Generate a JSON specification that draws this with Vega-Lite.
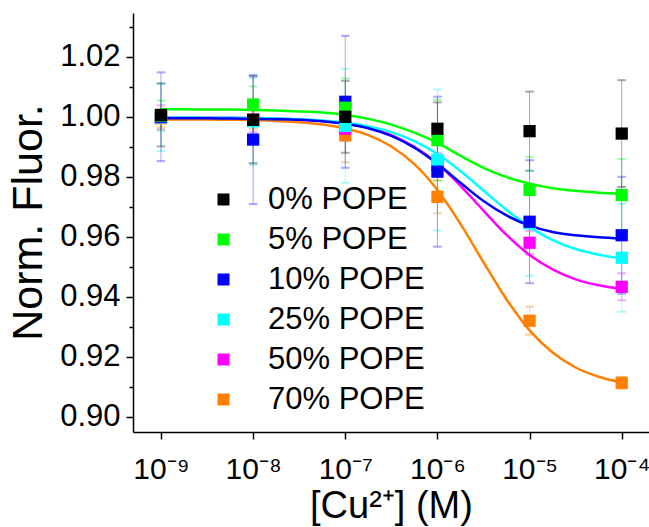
{
  "$schema": "https://vega.github.io/schema/vega-lite/v6.json",
  "autosize": "none",
  "width": 516,
  "height": 419,
  "padding": {"left": 133, "top": 13, "right": 0, "bottom": 95},
  "background": "white",
  "config": {
    "view": {"stroke": null},
    "font": "Liberation Sans",
    "axis": {
      "grid": false,
      "domainColor": "black",
      "domainWidth": 1.5,
      "tickColor": "black",
      "tickWidth": 1.5,
      "labelColor": "black",
      "titleColor": "black",
      "labelFont": "Liberation Sans",
      "titleFont": "Liberation Sans",
      "titleFontWeight": "normal",
      "labelFontSize": 30,
      "titleFontSize": 39
    }
  },
  "datasets": {
    "points": [
      {"s": "70% POPE", "c": 1e-9, "v": 0.9995, "err": 0.003},
      {"s": "70% POPE", "c": 1e-8, "v": 0.9990, "err": 0.003},
      {"s": "70% POPE", "c": 1e-7, "v": 0.9938, "err": 0.009},
      {"s": "70% POPE", "c": 1e-6, "v": 0.9733, "err": 0.0055},
      {"s": "70% POPE", "c": 1e-5, "v": 0.9320, "err": 0.0047},
      {"s": "70% POPE", "c": 1e-4, "v": 0.9113, "err": 0.002},
      {"s": "50% POPE", "c": 1e-9, "v": 0.9998, "err": 0.004},
      {"s": "50% POPE", "c": 1e-8, "v": 0.9990, "err": 0.004},
      {"s": "50% POPE", "c": 1e-7, "v": 0.9960, "err": 0.004},
      {"s": "50% POPE", "c": 1e-6, "v": 0.9840, "err": 0.004},
      {"s": "50% POPE", "c": 1e-5, "v": 0.9580, "err": 0.004},
      {"s": "50% POPE", "c": 1e-4, "v": 0.9433, "err": 0.0045},
      {"s": "25% POPE", "c": 1e-9, "v": 0.9998, "err": 0.0113},
      {"s": "25% POPE", "c": 1e-8, "v": 0.9985, "err": 0.0145},
      {"s": "25% POPE", "c": 1e-7, "v": 0.9970, "err": 0.019},
      {"s": "25% POPE", "c": 1e-6, "v": 0.9856, "err": 0.0235},
      {"s": "25% POPE", "c": 1e-5, "v": 0.9645, "err": 0.0175},
      {"s": "25% POPE", "c": 1e-4, "v": 0.9530, "err": 0.018},
      {"s": "10% POPE", "c": 1e-9, "v": 1.0000, "err": 0.0148},
      {"s": "10% POPE", "c": 1e-8, "v": 0.9924, "err": 0.0215},
      {"s": "10% POPE", "c": 1e-7, "v": 1.0050, "err": 0.022},
      {"s": "10% POPE", "c": 1e-6, "v": 0.9817, "err": 0.025},
      {"s": "10% POPE", "c": 1e-5, "v": 0.9650, "err": 0.0205},
      {"s": "10% POPE", "c": 1e-4, "v": 0.9605, "err": 0.0195},
      {"s": "5% POPE", "c": 1e-9, "v": 1.0004, "err": 0.005},
      {"s": "5% POPE", "c": 1e-8, "v": 1.0041, "err": 0.006},
      {"s": "5% POPE", "c": 1e-7, "v": 1.0030, "err": 0.0098},
      {"s": "5% POPE", "c": 1e-6, "v": 0.9922, "err": 0.0135},
      {"s": "5% POPE", "c": 1e-5, "v": 0.9756, "err": 0.011},
      {"s": "5% POPE", "c": 1e-4, "v": 0.9739, "err": 0.012},
      {"s": "0% POPE", "c": 1e-9, "v": 1.0006, "err": 0.0105},
      {"s": "0% POPE", "c": 1e-8, "v": 0.9990, "err": 0.0145},
      {"s": "0% POPE", "c": 1e-7, "v": 1.0000, "err": 0.012},
      {"s": "0% POPE", "c": 1e-6, "v": 0.9960, "err": 0.0088},
      {"s": "0% POPE", "c": 1e-5, "v": 0.9952, "err": 0.0132},
      {"s": "0% POPE", "c": 1e-4, "v": 0.9944, "err": 0.0178}
    ],
    "curves": [
      {"s": "70% POPE", "c": 1e-9, "v": 0.9992},
      {"s": "70% POPE", "c": 1.778e-9, "v": 0.9991},
      {"s": "70% POPE", "c": 3.162e-9, "v": 0.9991},
      {"s": "70% POPE", "c": 5.623e-9, "v": 0.9990},
      {"s": "70% POPE", "c": 1e-8, "v": 0.9989},
      {"s": "70% POPE", "c": 1.778e-8, "v": 0.9986},
      {"s": "70% POPE", "c": 3.162e-8, "v": 0.9982},
      {"s": "70% POPE", "c": 5.623e-8, "v": 0.9974},
      {"s": "70% POPE", "c": 1e-7, "v": 0.9961},
      {"s": "70% POPE", "c": 1.778e-7, "v": 0.9939},
      {"s": "70% POPE", "c": 3.162e-7, "v": 0.9901},
      {"s": "70% POPE", "c": 5.623e-7, "v": 0.9842},
      {"s": "70% POPE", "c": 1e-6, "v": 0.9756},
      {"s": "70% POPE", "c": 1.778e-6, "v": 0.9643},
      {"s": "70% POPE", "c": 3.162e-6, "v": 0.9515},
      {"s": "70% POPE", "c": 5.623e-6, "v": 0.9391},
      {"s": "70% POPE", "c": 1e-5, "v": 0.9288},
      {"s": "70% POPE", "c": 1.778e-5, "v": 0.9214},
      {"s": "70% POPE", "c": 3.162e-5, "v": 0.9164},
      {"s": "70% POPE", "c": 5.623e-5, "v": 0.9133},
      {"s": "70% POPE", "c": 1e-4, "v": 0.9114},
      {"s": "50% POPE", "c": 1e-9, "v": 0.9998},
      {"s": "50% POPE", "c": 1.778e-9, "v": 0.9998},
      {"s": "50% POPE", "c": 3.162e-9, "v": 0.9997},
      {"s": "50% POPE", "c": 5.623e-9, "v": 0.9997},
      {"s": "50% POPE", "c": 1e-8, "v": 0.9996},
      {"s": "50% POPE", "c": 1.778e-8, "v": 0.9994},
      {"s": "50% POPE", "c": 3.162e-8, "v": 0.9991},
      {"s": "50% POPE", "c": 5.623e-8, "v": 0.9986},
      {"s": "50% POPE", "c": 1e-7, "v": 0.9978},
      {"s": "50% POPE", "c": 1.778e-7, "v": 0.9963},
      {"s": "50% POPE", "c": 3.162e-7, "v": 0.9939},
      {"s": "50% POPE", "c": 5.623e-7, "v": 0.9900},
      {"s": "50% POPE", "c": 1e-6, "v": 0.9844},
      {"s": "50% POPE", "c": 1.778e-6, "v": 0.9770},
      {"s": "50% POPE", "c": 3.162e-6, "v": 0.9687},
      {"s": "50% POPE", "c": 5.623e-6, "v": 0.9606},
      {"s": "50% POPE", "c": 1e-5, "v": 0.9539},
      {"s": "50% POPE", "c": 1.778e-5, "v": 0.9491},
      {"s": "50% POPE", "c": 3.162e-5, "v": 0.9458},
      {"s": "50% POPE", "c": 5.623e-5, "v": 0.9438},
      {"s": "50% POPE", "c": 1e-4, "v": 0.9426},
      {"s": "25% POPE", "c": 1e-9, "v": 0.9998},
      {"s": "25% POPE", "c": 1.778e-9, "v": 0.9998},
      {"s": "25% POPE", "c": 3.162e-9, "v": 0.9997},
      {"s": "25% POPE", "c": 5.623e-9, "v": 0.9997},
      {"s": "25% POPE", "c": 1e-8, "v": 0.9996},
      {"s": "25% POPE", "c": 1.778e-8, "v": 0.9994},
      {"s": "25% POPE", "c": 3.162e-8, "v": 0.9992},
      {"s": "25% POPE", "c": 5.623e-8, "v": 0.9988},
      {"s": "25% POPE", "c": 1e-7, "v": 0.9980},
      {"s": "25% POPE", "c": 1.778e-7, "v": 0.9968},
      {"s": "25% POPE", "c": 3.162e-7, "v": 0.9949},
      {"s": "25% POPE", "c": 5.623e-7, "v": 0.9919},
      {"s": "25% POPE", "c": 1e-6, "v": 0.9876},
      {"s": "25% POPE", "c": 1.778e-6, "v": 0.9819},
      {"s": "25% POPE", "c": 3.162e-6, "v": 0.9754},
      {"s": "25% POPE", "c": 5.623e-6, "v": 0.9689},
      {"s": "25% POPE", "c": 1e-5, "v": 0.9633},
      {"s": "25% POPE", "c": 1.778e-5, "v": 0.9589},
      {"s": "25% POPE", "c": 3.162e-5, "v": 0.9559},
      {"s": "25% POPE", "c": 5.623e-5, "v": 0.9540},
      {"s": "25% POPE", "c": 1e-4, "v": 0.9528},
      {"s": "10% POPE", "c": 1e-9, "v": 0.9995},
      {"s": "10% POPE", "c": 1.778e-9, "v": 0.9995},
      {"s": "10% POPE", "c": 3.162e-9, "v": 0.9995},
      {"s": "10% POPE", "c": 5.623e-9, "v": 0.9994},
      {"s": "10% POPE", "c": 1e-8, "v": 0.9993},
      {"s": "10% POPE", "c": 1.778e-8, "v": 0.9992},
      {"s": "10% POPE", "c": 3.162e-8, "v": 0.9990},
      {"s": "10% POPE", "c": 5.623e-8, "v": 0.9985},
      {"s": "10% POPE", "c": 1e-7, "v": 0.9976},
      {"s": "10% POPE", "c": 1.778e-7, "v": 0.9962},
      {"s": "10% POPE", "c": 3.162e-7, "v": 0.9936},
      {"s": "10% POPE", "c": 5.623e-7, "v": 0.9897},
      {"s": "10% POPE", "c": 1e-6, "v": 0.9843},
      {"s": "10% POPE", "c": 1.778e-6, "v": 0.9780},
      {"s": "10% POPE", "c": 3.162e-6, "v": 0.9719},
      {"s": "10% POPE", "c": 5.623e-6, "v": 0.9671},
      {"s": "10% POPE", "c": 1e-5, "v": 0.9637},
      {"s": "10% POPE", "c": 1.778e-5, "v": 0.9616},
      {"s": "10% POPE", "c": 3.162e-5, "v": 0.9605},
      {"s": "10% POPE", "c": 5.623e-5, "v": 0.9598},
      {"s": "10% POPE", "c": 1e-4, "v": 0.9594},
      {"s": "5% POPE", "c": 1e-9, "v": 1.0025},
      {"s": "5% POPE", "c": 1.778e-9, "v": 1.0025},
      {"s": "5% POPE", "c": 3.162e-9, "v": 1.0024},
      {"s": "5% POPE", "c": 5.623e-9, "v": 1.0024},
      {"s": "5% POPE", "c": 1e-8, "v": 1.0023},
      {"s": "5% POPE", "c": 1.778e-8, "v": 1.0021},
      {"s": "5% POPE", "c": 3.162e-8, "v": 1.0018},
      {"s": "5% POPE", "c": 5.623e-8, "v": 1.0014},
      {"s": "5% POPE", "c": 1e-7, "v": 1.0006},
      {"s": "5% POPE", "c": 1.778e-7, "v": 0.9993},
      {"s": "5% POPE", "c": 3.162e-7, "v": 0.9974},
      {"s": "5% POPE", "c": 5.623e-7, "v": 0.9947},
      {"s": "5% POPE", "c": 1e-6, "v": 0.9913},
      {"s": "5% POPE", "c": 1.778e-6, "v": 0.9870},
      {"s": "5% POPE", "c": 3.162e-6, "v": 0.9830},
      {"s": "5% POPE", "c": 5.623e-6, "v": 0.9799},
      {"s": "5% POPE", "c": 1e-5, "v": 0.9777},
      {"s": "5% POPE", "c": 1.778e-5, "v": 0.9762},
      {"s": "5% POPE", "c": 3.162e-5, "v": 0.9753},
      {"s": "5% POPE", "c": 5.623e-5, "v": 0.9747},
      {"s": "5% POPE", "c": 1e-4, "v": 0.9743}
    ]
  },
  "encoding": {
    "x": {
      "field": "c",
      "type": "quantitative",
      "scale": {"type": "log", "domain": [4.97e-10, 1.977e-4], "nice": false},
      "axis": {
        "title": "[Cu²⁺] (M)",
        "titleFontSize": 38,
        "values": [1e-9, 1e-8, 1e-7, 1e-6, 1e-5, 1e-4],
        "tickSize": 7,
        "labelBaseline": "alphabetic",
        "labelPadding": 39,
        "labelExpr": "'10⁻' + ['⁰','¹','²','³','⁴','⁵','⁶','⁷','⁸','⁹'][-round(log(datum.value)/LN10)]",
        "titleBaseline": "alphabetic",
        "titleY": 85,
        "titleX": 258
      }
    },
    "y": {
      "field": "v",
      "type": "quantitative",
      "scale": {"domain": [0.8949, 1.0346], "nice": false, "zero": false},
      "axis": {
        "title": "Norm. Fluor.",
        "titleFontSize": 43,
        "labelFontSize": 31,
        "values": [0.9, 0.91, 0.92, 0.93, 0.94, 0.95, 0.96, 0.97, 0.98, 0.99, 1.0, 1.01, 1.02, 1.03],
        "tickSize": {"condition": {"test": "round(datum.value*100) % 2 == 0", "value": 7}, "value": 4},
        "labelPadding": 6,
        "labelExpr": "round(datum.value*100) % 2 == 0 ? format(datum.value, '.2f') : ''",
        "titleBaseline": "alphabetic",
        "titleAngle": -90,
        "titleX": -92,
        "titleY": 209,
        "titleAlign": "center"
      }
    }
  },
  "layer": [
    {
      "data": {"name": "points"},
      "mark": {"type": "errorbar", "ticks": {"size": 8}, "opacity": 0.35},
      "encoding": {
        "yError": {"field": "err"},
        "stroke": {
          "field": "s",
          "type": "nominal",
          "scale": {"domain": ["70% POPE", "50% POPE", "25% POPE", "10% POPE", "5% POPE", "0% POPE"], "range": ["#ff8000", "#ff00ff", "#00ffff", "#0000ff", "#00ff00", "#000000"]},
          "legend": null
        }
      }
    },
    {
      "data": {"name": "curves"},
      "mark": {"type": "line", "strokeWidth": 2.5, "interpolate": "monotone"},
      "encoding": {
        "stroke": {"field": "s", "type": "nominal", "legend": null}
      }
    },
    {
      "data": {"name": "points"},
      "mark": {"type": "point", "shape": "square", "filled": true, "size": 150, "opacity": 1},
      "encoding": {
        "color": {
          "field": "s",
          "type": "nominal",
          "scale": {"domain": ["0% POPE", "5% POPE", "10% POPE", "25% POPE", "50% POPE", "70% POPE"], "range": ["#000000", "#00ff00", "#0000ff", "#00ffff", "#ff00ff", "#ff8000"]},
          "legend": {
            "orient": "none",
            "legendX": 75,
            "legendY": 171,
            "title": null,
            "padding": 0,
            "symbolType": "square",
            "symbolSize": 144,
            "symbolStrokeWidth": 0,
            "symbolOpacity": 1,
            "labelFont": "Liberation Sans",
            "labelFontSize": 31,
            "labelColor": "black",
            "labelOffset": 29,
            "rowPadding": 8
          }
        }
      }
    }
  ]
}
